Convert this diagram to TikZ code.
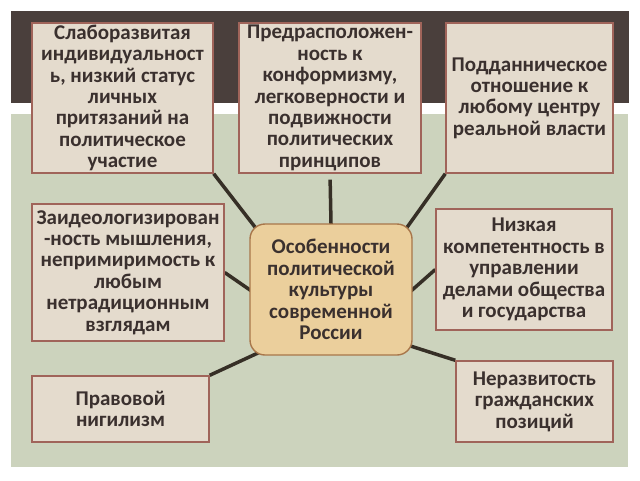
\documentclass[tikz,border=0pt]{standalone}
\usepackage{fontspec}
\setmainfont{Carlito}
\usetikzlibrary{backgrounds}
\definecolor{band}{HTML}{4A3F3C}
\definecolor{field}{HTML}{CCD3BD}
\definecolor{linen}{HTML}{E4DBCD}
\definecolor{rim}{HTML}{A0645A}
\definecolor{corefill}{HTML}{EBCF9C}
\definecolor{corerim}{HTML}{A8764A}
\definecolor{ink}{HTML}{3A302E}
\definecolor{wire}{HTML}{362F26}

\begin{document}
\begin{tikzpicture}[x=1pt, y=-1pt,
    trait/.style={draw=rim, line width=1.4pt, fill=linen, text=ink, align=center, inner sep=0pt,
        font=\bfseries\fontsize{21}{21.4}\selectfont},
    link/.style={draw=wire, line width=3.5pt, shorten >=-8pt}]
    \useasboundingbox (0,0) rectangle (640,480);
    \node[trait, minimum width=181pt, minimum height=150pt] (weak) at (122.5,98)
        {Слаборазвитая\\индивидуальност\\ь, низкий статус\\личных\\притязаний на\\политическое\\участие};
    \node[trait, minimum width=182pt, minimum height=150pt] (prone) at (330,98)
        {Предрасположен-\\ность к\\конформизму,\\легковерности и\\подвижности\\политических\\принципов};
    \node[trait, minimum width=167pt, minimum height=150pt] (subject) at (529.5,98)
        {Подданническое\\отношение к\\любому центру\\реальной власти};
    \node[trait, minimum width=192pt, minimum height=137pt] (ideol) at (128,272.5)
        {Заидеологизирован\\-ность мышления,\\непримиримость к\\любым\\нетрадиционным\\взглядам};
    \node[trait, minimum width=176pt, minimum height=121pt] (incomp) at (524,269.5)
        {Низкая\\компетентность в\\управлении\\делами общества\\и государства};
    \node[trait, minimum width=177pt, minimum height=66pt] (nihil) at (120.5,409)
        {Правовой\\нигилизм};
    \node[trait, minimum width=157pt, minimum height=81pt] (civic) at (534.5,401.5)
        {Неразвитость\\гражданских\\позиций};
    \node[trait, draw=corerim, fill=corefill, rounded corners=15pt,
        minimum width=162pt, minimum height=131pt] (core) at (331,289.5)
        {Особенности\\политической\\культуры\\современной\\России};
    \begin{scope}[on background layer]
        \fill[white] (0,0) rectangle (640,480);
        \fill[band] (11,11) rectangle (629,103);
        \fill[field] (11,114) rectangle (628,467);
        \draw[link] (weak.south east) -- (core.140);
        \draw[link, shorten <=6pt] (prone.south) -- (core.north);
        \draw[link] (subject.south west) -- (core.40);
        \draw[link] (ideol.east) -- (core.west);
        \draw[link] (incomp.west) -- (core.east);
        \draw[link] (nihil.north east) -- (core.220);
        \draw[link] (civic.north west) -- (core.-35);
    \end{scope}
\end{tikzpicture}
\end{document}
